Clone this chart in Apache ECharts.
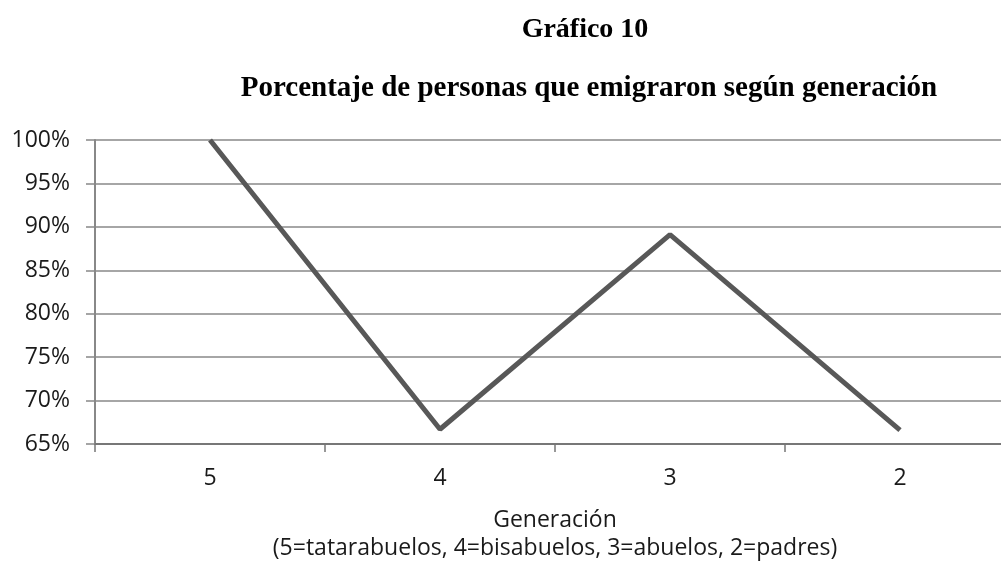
<!DOCTYPE html>
<html>
<head>
<meta charset="utf-8">
<script src="https://cdn.jsdelivr.net/npm/echarts@6/dist/echarts.min.js"></script>
<style>
  html, body { margin: 0; padding: 0; background: #fff; }
  #chart { width: 1001px; height: 562px; }
</style>
</head>
<body>
<div id="chart"></div>
<script>
// generaciones (5=tatarabuelos ... 2=padres)
const generaciones = ['5', '4', '3', '2']
// porcentaje que emigró
const porcentajes = [100, 66.7, 89.1, 66.6]
const yTicks = { min: 65, max: 100, interval: 5 }

const chart = echarts.init(document.getElementById('chart'))
chart.setOption({
  backgroundColor: '#fff',
  animation: false,
  title: [
    {
      text: 'Gráfico 10',
      left: 580,
      top: 11,
      textAlign: 'center',
      textStyle: { fontFamily: 'Liberation Serif', fontWeight: 'bold', fontSize: 28, color: '#000' }
    },
    {
      text: 'Porcentaje de personas que emigraron según generación',
      left: 584,
      top: 69,
      textAlign: 'center',
      textStyle: { fontFamily: 'Liberation Serif', fontWeight: 'bold', fontSize: 29, color: '#000' }
    }
  ],
  grid: {
    left: 95,
    top: 140,
    width: 920,
    bottom: 118,
    containLabel: false,
    outerBoundsMode: 'none'
  },
  xAxis: {
    type: 'category',
    data: generaciones,
    boundaryGap: true,
    name: 'Generación\n(5=tatarabuelos, 4=bisabuelos, 3=abuelos, 2=padres)',
    nameLocation: 'middle',
    nameGap: 62,
    nameTextStyle: { fontFamily: 'Open Sans', fontSize: 23, color: '#1a1a1a', lineHeight: 28 },
    axisLine: { lineStyle: { color: '#777', width: 2 } },
    axisTick: { show: true, length: 8, lineStyle: { color: '#777', width: 1.5 } },
    axisLabel: { fontFamily: 'Open Sans', fontSize: 23, color: '#1a1a1a', margin: 23 },
    splitLine: { show: false }
  },
  yAxis: {
    type: 'value',
    min: yTicks.min,
    max: yTicks.max,
    interval: yTicks.interval,
    axisLine: { show: true, lineStyle: { color: '#888', width: 2 } },
    axisTick: { show: true, length: 9, lineStyle: { color: '#888', width: 1.5 } },
    axisLabel: { fontFamily: 'Open Sans', fontSize: 23, color: '#1a1a1a', margin: 25, formatter: '{value}%' },
    splitLine: { lineStyle: { color: '#888', width: 1.5 } }
  },
  series: [
    {
      type: 'line',
      data: porcentajes,
      showSymbol: false,
      lineStyle: { color: '#585858', width: 5 }
    }
  ]
})
</script>
</body>
</html>
